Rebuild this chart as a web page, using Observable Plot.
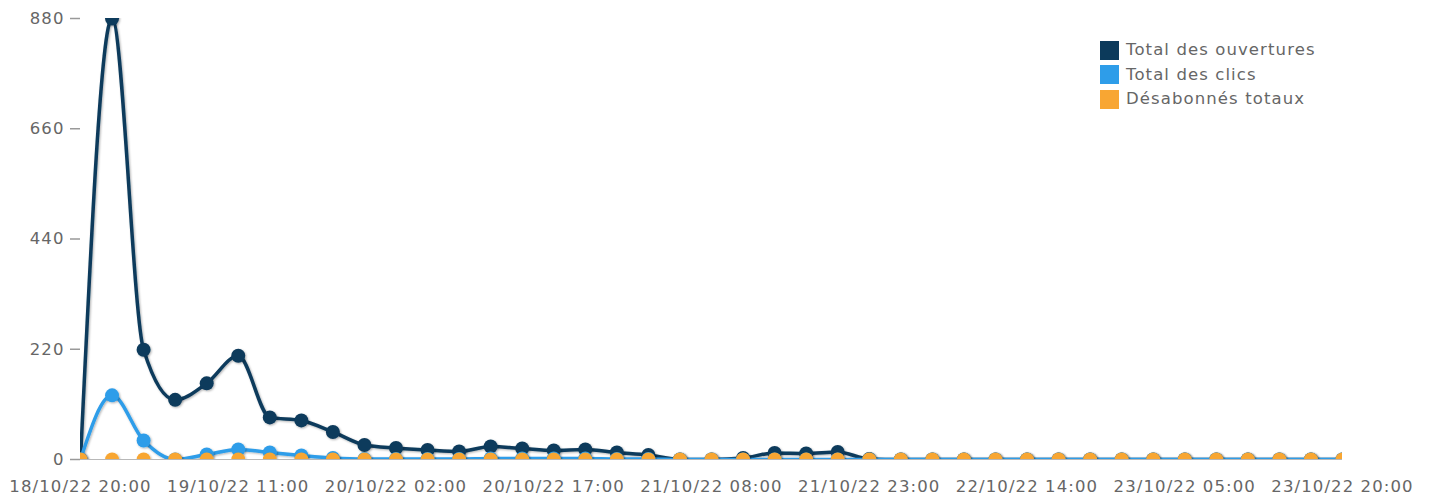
<!DOCTYPE html>
<html>
<head>
<meta charset="utf-8">
<script src="https://cdn.jsdelivr.net/npm/d3@7"></script>
<script src="https://cdn.jsdelivr.net/npm/@observablehq/plot@0.6"></script>
<style>
  html, body { margin: 0; padding: 0; background: #fff; }
  #wrap { position: relative; width: 1431px; height: 502px; font-family: "DejaVu Sans", sans-serif; }
  #legend { position: absolute; left: 1100px; top: 38px; font-size: 16.5px; letter-spacing: 1.1px; color: #666; line-height: 24.5px; }
  #legend .item { display: flex; align-items: center; white-space: nowrap; }
  #legend .sw { width: 19px; height: 19px; margin-right: 7px; }
</style>
</head>
<body>
<div id="wrap">
  <div id="chart"></div>
  <div id="legend"></div>
</div>
<script>
// Time axis: one point every 3 hours from 18/10/22 20:00 to 23/10/22 20:00
const startTime = "2022-10-18T20:00:00Z";
const stepHours = 3;
const tickLabels = ["18/10/22 20:00", "19/10/22 11:00", "20/10/22 02:00", "20/10/22 17:00",
  "21/10/22 08:00", "21/10/22 23:00", "22/10/22 14:00", "23/10/22 05:00", "23/10/22 20:00"];
const yTicks = [0, 220, 440, 660, 880];

const seriesNames = ["Total des ouvertures", "Total des clics", "Désabonnés totaux"];
const seriesColors = ["#0c3a5b", "#2e9de9", "#f8a633"];

const opens = [0, 880, 219, 119, 152, 207, 84, 78, 55, 29, 23, 19, 16, 26, 22, 18, 20, 14, 9, 0,
  0, 3, 13, 12, 15, 1, 0, 0, 0, 0, 0, 0, 0, 0, 0, 0, 0, 0, 0, 0, 0];
const clicks = [0, 128, 38, 0, 10, 20, 14, 8, 3, 1, 1, 1, 1, 2, 2, 2, 2, 1, 1, 0,
  0, 0, 0, 0, 0, 0, 0, 0, 0, 0, 0, 0, 0, 0, 0, 0, 0, 0, 0, 0, 0];
const unsubs = [0, 0, 0, 0, 0, 0, 0, 0, 0, 0, 0, 0, 0, 0, 0, 0, 0, 0, 0, 0,
  0, 0, 0, 0, 0, 0, 0, 0, 0, 0, 0, 0, 0, 0, 0, 0, 0, 0, 0, 0, 0];

const t0 = new Date(startTime);
const timeAt = i => new Date(t0.getTime() + i * stepHours * 3600e3);
const parseLabel = d3.utcParse("%d/%m/%y %H:%M");
const tickDates = tickLabels.map(parseLabel);
const fmt = d3.utcFormat("%d/%m/%y %H:%M");

const allSeries = [opens, clicks, unsubs];
const data = allSeries.map((vals, s) => vals.map((v, i) => ({t: timeAt(i), v, s: seriesNames[s]})));

const marks = [];
data.forEach((rows, s) => {
  marks.push(Plot.line(rows, {x: "t", y: "v", stroke: seriesColors[s], strokeWidth: 3.5, curve: "monotone-x", clip: true, className: "shadowed"}));
  marks.push(Plot.dot(rows, {x: "t", y: "v", fill: seriesColors[s], r: 7, clip: true, className: "shadowed"}));
});

const chart = Plot.plot({
  width: 1431,
  height: 502,
  marginLeft: 80,
  marginRight: 89,
  marginTop: 18,
  marginBottom: 43,
  style: {fontFamily: "DejaVu Sans, sans-serif", fontSize: "16.5px", letterSpacing: "1.1px", color: "#666", background: "#fff"},
  x: {type: "utc", domain: [timeAt(0), timeAt(opens.length - 1)]},
  y: {domain: [0, 880]},
  marks: [
    Plot.axisX({ticks: tickDates, tickFormat: fmt, tickSize: 0, tickPadding: 21, label: null, fill: "#666"}),
    Plot.axisY({ticks: yTicks, tickSize: 10, tickPadding: 6, label: null, stroke: "#999", strokeWidth: 1.5, fill: "#666"}),
    Plot.ruleY([0], {stroke: "#b8b8b8", strokeWidth: 1}),
    ...marks
  ]
});

// drop shadow filter like the original
const defs = document.createElementNS("http://www.w3.org/2000/svg", "defs");
defs.innerHTML = '<filter id="sh" x="-20%" y="-20%" width="140%" height="140%"><feDropShadow dx="1" dy="1" stdDeviation="1.2" flood-color="#000" flood-opacity="0.3"/></filter>';
chart.insertBefore(defs, chart.firstChild);
chart.querySelectorAll(".shadowed").forEach(g => g.setAttribute("filter", "url(#sh)"));

document.getElementById("chart").appendChild(chart);

const legend = document.getElementById("legend");
seriesNames.forEach((name, i) => {
  const item = document.createElement("div");
  item.className = "item";
  const sw = document.createElement("span");
  sw.className = "sw";
  sw.style.background = seriesColors[i];
  item.appendChild(sw);
  item.appendChild(document.createTextNode(name));
  legend.appendChild(item);
});
</script>
</body>
</html>
